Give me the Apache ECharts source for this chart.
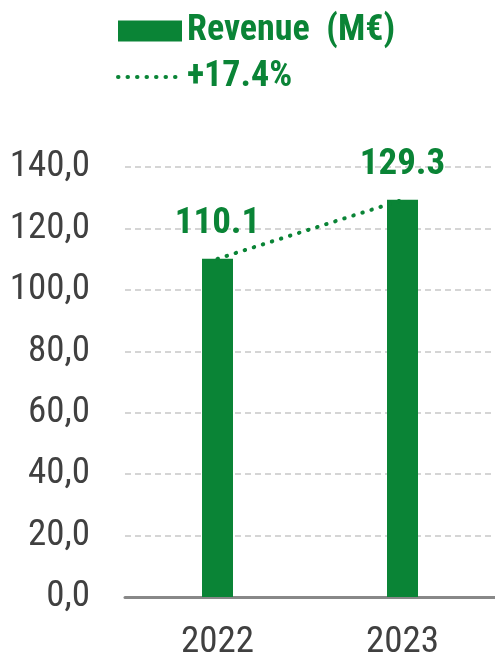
<!DOCTYPE html>
<html>
<head>
<meta charset="utf-8">
<script src="https://cdn.jsdelivr.net/npm/echarts@6/dist/echarts.min.js"></script>
<style>
  html, body { margin: 0; padding: 0; background: #fff; }
  #chart { width: 495px; height: 657px; }
</style>
</head>
<body>
<div id="chart"></div>
<script>
// revenue chart
var years = ['2022', '2023'];
var revenue = [110.1, 129.3];
var growthName = '+17.4%';
var revenueName = 'Revenue\u00a0\u00a0(M€)';

var green = '#0a8436';
var font = "'Roboto Condensed', 'Liberation Sans Narrow', 'Arial Narrow', Roboto, sans-serif";
var dotted = { color: green, width: 4, type: [0.5, 9], cap: 'round' };

var chart = echarts.init(document.getElementById('chart'));

var option = {
  animation: false,
  textStyle: { fontFamily: font },
  legend: {
    orient: 'vertical',
    left: 111,
    top: 8,
    itemWidth: 64,
    itemHeight: 21,
    itemGap: 10,
    itemTextGap: 5,
    textStyle: {
      color: green,
      fontSize: 36,
      fontWeight: 'bold',
      lineHeight: 36,
      fontFamily: font
    },
    data: [
      { name: revenueName, icon: 'rect' },
      {
        name: growthName,
        itemStyle: { color: 'transparent', borderWidth: 0, opacity: 0 },
        lineStyle: dotted
      }
    ]
  },
  grid: {
    left: 125,
    right: 0,
    top: 167,
    bottom: 60,
    outerBoundsMode: 'none'
  },
  xAxis: {
    type: 'category',
    data: years,
    axisLine: { lineStyle: { color: '#888888', width: 3 } },
    axisTick: { show: false },
    axisLabel: {
      color: '#404040',
      fontSize: 37,
      margin: 27,
      fontFamily: font
    }
  },
  yAxis: {
    type: 'value',
    min: 0,
    max: 140,
    interval: 20,
    axisLine: { show: false },
    axisTick: { show: false },
    splitLine: {
      lineStyle: { color: '#c8c8c8', width: 1.5, type: [6, 4] }
    },
    axisLabel: {
      color: '#404040',
      fontSize: 37,
      margin: 35,
      fontFamily: font,
      formatter: function (v) {
        return v.toFixed(1).replace('.', ',');
      }
    }
  },
  series: [
    {
      name: revenueName,
      type: 'bar',
      data: revenue,
      barWidth: 31,
      itemStyle: { color: green },
      label: {
        show: true,
        position: 'top',
        distance: 17,
        color: green,
        fontSize: 37,
        fontWeight: 'bold',
        fontFamily: font,
        formatter: function (p) { return p.value.toFixed(1); }
      }
    },
    {
      name: growthName,
      type: 'line',
      data: revenue,
      symbol: 'none',
      z: 5,
      itemStyle: { color: green },
      lineStyle: dotted
    }
  ]
};

chart.setOption(option);
</script>
</body>
</html>
